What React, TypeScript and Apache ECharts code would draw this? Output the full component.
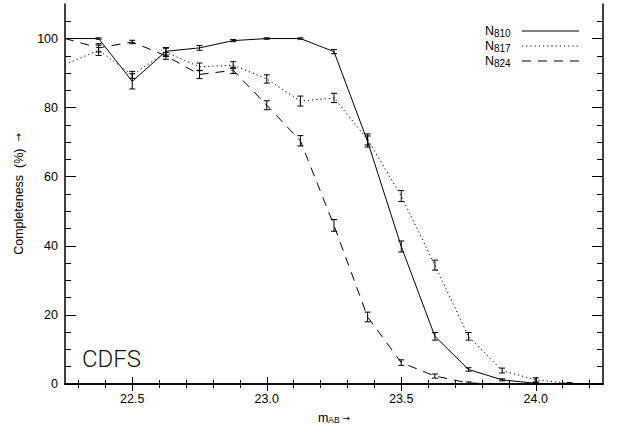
import React, { useEffect, useRef } from "react";
import * as echarts from "echarts";

// Magnitude bins (m_AB) at which completeness was measured
const magnitudes = [22.25, 22.375, 22.5, 22.625, 22.75, 22.875, 23.0, 23.125, 23.25, 23.375, 23.5, 23.625, 23.75, 23.875, 24.0, 24.125, 24.25];

// Completeness (%) and 1-sigma errors for each narrow-band filter
const n810 = [100, 100, 87.6, 96.3, 97.3, 99.4, 100, 100, 96.2, 70.2, 39.8, 13.8, 4.2, 1.2, 0.2, 0, 0];
const n810Err = [0, 0.2, 2.2, 1.1, 0.7, 0.3, 0.2, 0.2, 0.6, 1.6, 1.6, 1.1, 0.5, 0.3, 0.2, 0.1, 0];

const n817 = [92.5, 96.6, 89.5, 96.0, 91.8, 92.3, 88.3, 81.9, 82.8, 70.8, 54.4, 34.4, 13.8, 3.9, 1.2, 0.2, 0];
const n817Err = [0, 1.5, 1.0, 1.2, 1.1, 1.0, 1.2, 1.45, 1.35, 1.6, 1.6, 1.45, 1.1, 0.7, 0.6, 0.2, 0];

const n824 = [100, 97.3, 99.0, 95.0, 89.6, 90.8, 80.7, 70.4, 45.9, 19.4, 6.2, 2.3, 0.3, 0, 0, 0, 0];
const n824Err = [0, 1.2, 0.5, 1.0, 1.2, 0.9, 1.3, 1.5, 1.7, 1.4, 0.8, 0.6, 0.3, 0.1, 0, 0, 0];

// Axis ticks
const xMajorTicks = [22.5, 23.0, 23.5, 24.0];
const xMinorTicks = [22.3, 22.4, 22.6, 22.7, 22.8, 22.9, 23.1, 23.2, 23.3, 23.4, 23.6, 23.7, 23.8, 23.9, 24.1, 24.2];
const yMajorTicks = [0, 20, 40, 60, 80, 100];
const yMinorTicks = [5, 10, 15, 25, 30, 35, 45, 50, 55, 65, 70, 75, 85, 90, 95, 105];

const X_MIN = 22.25;
const X_MAX = 24.25;
const Y_MIN = 0;
const Y_MAX = 110;

const BLACK = "#000";
const LABEL_FONT = "Liberation Sans";
const ARROW_FONT = "DejaVu Sans";

const seriesDefs = [
  { name: "N810", sub: "810", values: n810, errors: n810Err, dash: "solid" as any, legendDash: null as number[] | null },
  { name: "N817", sub: "817", values: n817, errors: n817Err, dash: [1.2, 3] as any, legendDash: [1.2, 3] },
  { name: "N824", sub: "824", values: n824, errors: n824Err, dash: [9, 7] as any, legendDash: [9, 7] },
];

function makeXAxis(position: "bottom" | "top", major: boolean) {
  const ticks = major ? xMajorTicks : xMinorTicks;
  const isMainAxis = position === "bottom" && major;
  return {
    type: "value",
    position,
    min: X_MIN,
    max: X_MAX,
    axisLine: { show: major, lineStyle: { color: BLACK, width: 1.5 } },
    axisTick: {
      show: true,
      inside: true,
      length: major ? 7 : 4,
      customValues: ticks,
      lineStyle: { color: BLACK, width: 1 },
    },
    axisLabel: isMainAxis
      ? {
          show: true,
          customValues: xMajorTicks,
          formatter: (v: number) => v.toFixed(1),
          color: BLACK,
          fontFamily: LABEL_FONT,
          fontSize: 12.5,
          margin: 8,
        }
      : { show: false },
    splitLine: { show: false },
    ...(isMainAxis
      ? {
          name: "{m|m}{sub|AB}{arr| →}",
          nameLocation: "middle",
          nameGap: 27,
          nameTextStyle: {
            color: BLACK,
            fontFamily: LABEL_FONT,
            rich: {
              m: { fontSize: 12.5, fontFamily: LABEL_FONT, color: BLACK, verticalAlign: "middle" },
              sub: { fontSize: 8.5, fontFamily: LABEL_FONT, color: BLACK, verticalAlign: "bottom", padding: [4, 0, 0, 0] },
              arr: { fontSize: 9, fontFamily: ARROW_FONT, color: BLACK, verticalAlign: "middle" },
            },
          },
        }
      : {}),
  };
}

function makeYAxis(position: "left" | "right", major: boolean) {
  const ticks = major ? yMajorTicks : yMinorTicks;
  const isMainAxis = position === "left" && major;
  return {
    type: "value",
    position,
    min: Y_MIN,
    max: Y_MAX,
    axisLine: { show: major, lineStyle: { color: BLACK, width: 1.5 } },
    axisTick: {
      show: true,
      inside: true,
      length: major ? 11 : 6,
      customValues: ticks,
      lineStyle: { color: BLACK, width: 1 },
    },
    axisLabel: isMainAxis
      ? {
          show: true,
          customValues: yMajorTicks,
          color: BLACK,
          fontFamily: LABEL_FONT,
          fontSize: 12.5,
          margin: 7,
        }
      : { show: false },
    splitLine: { show: false },
    ...(isMainAxis
      ? {
          name: "{t|Completeness  (%)  }{a|→}",
          nameLocation: "middle",
          nameGap: 40,
          nameTextStyle: {
            color: BLACK,
            fontFamily: LABEL_FONT,
            fontSize: 12.5,
            rich: {
              t: { fontSize: 12.5, fontFamily: LABEL_FONT, color: BLACK },
              a: { fontSize: 10, fontFamily: ARROW_FONT, color: BLACK },
            },
          },
        }
      : {}),
  };
}

function errorBarRenderer(params: any, api: any) {
  const x = api.value(0);
  const y = api.value(1);
  const e = api.value(2);
  if (!(e > 0)) return null;
  const top = api.coord([x, y + e]);
  const bot = api.coord([x, y - e]);
  const half = 3;
  const style = { stroke: BLACK, lineWidth: 1, fill: "none" };
  return {
    type: "group",
    children: [
      { type: "line", shape: { x1: top[0], y1: top[1], x2: bot[0], y2: bot[1] }, style },
      { type: "line", shape: { x1: top[0] - half, y1: top[1], x2: top[0] + half, y2: top[1] }, style },
      { type: "line", shape: { x1: bot[0] - half, y1: bot[1], x2: bot[0] + half, y2: bot[1] }, style },
    ],
  };
}

const legendRows = [31, 46, 61];

export default function App() {
  const ref = useRef<HTMLDivElement>(null);

  useEffect(() => {
    if (!ref.current) return;
    const chart = echarts.init(ref.current, undefined, { renderer: "svg" });

    const series: any[] = [];
    seriesDefs.forEach((def) => {
      series.push({
        name: def.name,
        type: "line",
        xAxisIndex: 0,
        yAxisIndex: 0,
        data: magnitudes.map((m, i) => [m, def.values[i]]),
        showSymbol: false,
        symbol: "none",
        clip: true,
        lineStyle: { color: BLACK, width: 1, type: def.dash },
        z: 3,
      });
      series.push({
        name: def.name + " errors",
        type: "custom",
        xAxisIndex: 0,
        yAxisIndex: 0,
        data: magnitudes.map((m, i) => [m, def.values[i], def.errors[i]]),
        encode: { x: 0, y: 1 },
        renderItem: errorBarRenderer,
        clip: true,
        z: 4,
      });
    });

    // Legend: filter name with subscript, followed by a line sample
    const legendGraphics: any[] = [];
    seriesDefs.forEach((def, i) => {
      const cy = legendRows[i];
      legendGraphics.push({
        type: "text",
        style: { text: "N", x: 485, y: cy, verticalAlign: "middle", align: "left", fill: BLACK, font: `12.5px "${LABEL_FONT}"` },
      });
      legendGraphics.push({
        type: "text",
        style: { text: def.sub, x: 494, y: cy + 2.5, verticalAlign: "middle", align: "left", fill: BLACK, font: `10px "${LABEL_FONT}"` },
      });
      legendGraphics.push({
        type: "line",
        shape: { x1: 522, y1: cy, x2: 579, y2: cy },
        style: { stroke: BLACK, lineWidth: 1, lineDash: def.legendDash || undefined },
      });
    });

    chart.setOption({
      animation: false,
      backgroundColor: "#fff",
      grid: { left: 65, right: 19, top: 4, bottom: 43, containLabel: false },
      xAxis: [makeXAxis("bottom", true), makeXAxis("bottom", false), makeXAxis("top", true), makeXAxis("top", false)],
      yAxis: [makeYAxis("left", true), makeYAxis("left", false), makeYAxis("right", true), makeYAxis("right", false)],
      series,
      graphic: [
        ...legendGraphics,
        {
          type: "text",
          style: {
            text: "CDFS",
            x: 82,
            y: 359,
            verticalAlign: "middle",
            align: "left",
            fill: "#111",
            font: `300 24px Roboto`,
          },
        },
      ],
    });

    return () => chart.dispose();
  }, []);

  return <div ref={ref} style={{ position: "absolute", left: 0, top: 0, width: 622, height: 429 }} />;
}
